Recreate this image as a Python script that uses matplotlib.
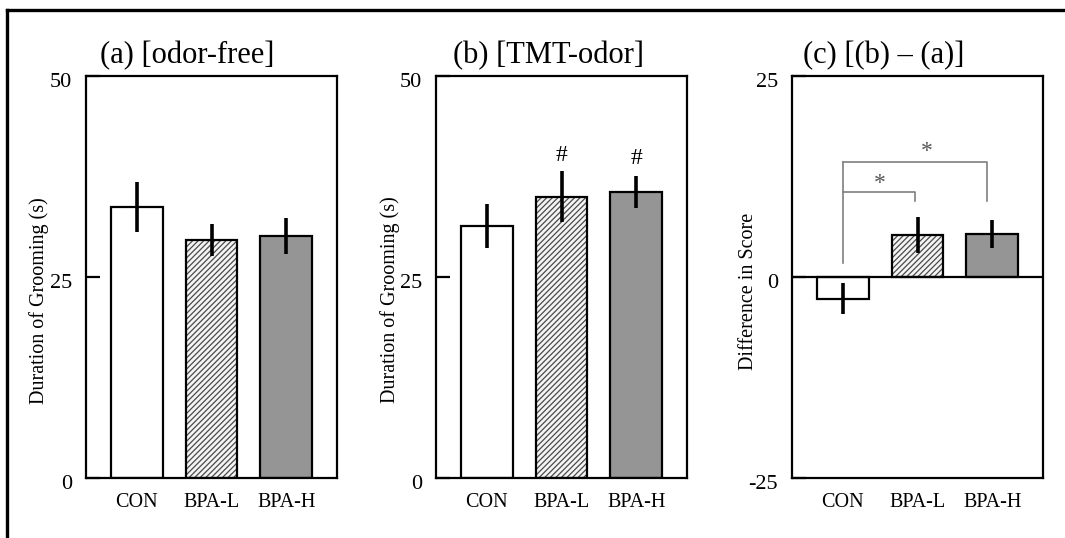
import matplotlib
matplotlib.use("Agg")
import matplotlib.pyplot as plt
from matplotlib.lines import Line2D
from matplotlib.transforms import ScaledTranslation

plt.rcParams["font.family"] = ["Liberation Serif", "DejaVu Serif"]
plt.rcParams["axes.unicode_minus"] = False
plt.rcParams["hatch.linewidth"] = 0.9

categories = ["CON", "BPA-L", "BPA-H"]

odor_free_mean = [33.7, 29.6, 30.1]
odor_free_sem = [3.1, 2.0, 2.2]

tmt_mean = [31.3, 35.0, 35.6]
tmt_sem = [2.75, 3.2, 2.0]

diff_mean = [-2.7, 5.2, 5.3]
diff_sem = [1.9, 2.25, 1.75]

# significance marks
hash_y = [40.1, 39.7]            # "#" above BPA-L and BPA-H in (b)
bracket_low = 10.6               # CON vs BPA-L
bracket_high = 14.3              # CON vs BPA-H
bracket_drop = 9.4
bracket_base = 1.7
star_y = [12.1, 16.1]

W, H = 1065, 538
GRAY = "#959595"


def make_axes(fig, left_px):
    return fig.add_axes([left_px / W, (H - 478) / H, 251 / W, 402 / H])


def draw_bars(ax, means, sems):
    x = list(range(len(categories)))
    w = 0.69
    ax.bar(x[0], means[0], w, color="white", edgecolor="black", linewidth=1.6, zorder=2)
    # hatched bar: hatch in dark gray, outline in black
    ax.bar(x[1], means[1], w, color="#f4f4f4", edgecolor="#4a4a4a", hatch="//////",
           linewidth=0, zorder=2)
    ax.bar(x[1], means[1], w, fill=False, edgecolor="black", linewidth=1.6, zorder=3)
    ax.bar(x[2], means[2], w, color=GRAY, edgecolor="black", linewidth=1.6, zorder=2)
    ax.errorbar(x, means, yerr=sems, fmt="none", ecolor="black", elinewidth=2.6,
                capsize=0, zorder=4)
    ax.set_xlim(-0.68, 2.68)
    ax.set_xticks(x)
    ax.set_xticklabels(categories, fontsize=14.5)
    ax.tick_params(axis="x", length=0, pad=11)
    ax.tick_params(axis="y", direction="in", length=10, width=1.6, pad=10,
                   labelsize=16, right=False)
    for s in ax.spines.values():
        s.set_linewidth(1.6)
    off = ScaledTranslation(0, -4 / 100, ax.figure.dpi_scale_trans)
    for lab in ax.get_yticklabels():
        lab.set_transform(lab.get_transform() + off)


def main():
    fig = plt.figure(figsize=(W / 100, H / 100), dpi=100)

    # (a)
    ax1 = make_axes(fig, 86)
    ax1.set_ylim(0, 50)
    ax1.set_yticks([0, 25, 50])
    draw_bars(ax1, odor_free_mean, odor_free_sem)
    ax1.text(0.402, 1.032, "(a) [odor-free]", transform=ax1.transAxes,
             ha="center", va="baseline", fontsize=22)
    ax1.text(-0.188, 0.44, "Duration of Grooming (s)", transform=ax1.transAxes,
             rotation=90, ha="center", va="center", fontsize=14.5)

    # (b)
    ax2 = make_axes(fig, 436)
    ax2.set_ylim(0, 50)
    ax2.set_yticks([0, 25, 50])
    draw_bars(ax2, tmt_mean, tmt_sem)
    ax2.text(0.45, 1.032, "(b) [TMT-odor]", transform=ax2.transAxes,
             ha="center", va="baseline", fontsize=22)
    ax2.text(-0.183, 0.443, "Duration of Grooming (s)", transform=ax2.transAxes,
             rotation=90, ha="center", va="center", fontsize=14.5)
    for xi, yi in zip([1, 2], hash_y):
        ax2.text(xi, yi, "#", ha="center", va="center", fontsize=17)

    # (c)
    ax3 = make_axes(fig, 792)
    ax3.set_ylim(-25, 25)
    ax3.set_yticks([-25, 0, 25])
    draw_bars(ax3, diff_mean, diff_sem)
    ax3.axhline(0, color="black", linewidth=1.6, zorder=5)
    ax3.text(0.367, 1.032, "(c) [(b) \u2013 (a)]", transform=ax3.transAxes,
             ha="center", va="baseline", fontsize=22)
    ax3.text(-0.175, 0.463, "Difference in Score", transform=ax3.transAxes,
             rotation=90, ha="center", va="center", fontsize=14.5)

    bc = "#7f7f7f"
    ax3.plot([0, 0], [bracket_base, bracket_high], color=bc, lw=1.2)
    ax3.plot([0, 0.97, 0.97], [bracket_low, bracket_low, bracket_drop], color=bc, lw=1.2)
    ax3.plot([0, 1.93, 1.93], [bracket_high, bracket_high, bracket_drop], color=bc, lw=1.2)
    ax3.text(0.5, star_y[0] - 0.5, "*", ha="center", va="center", fontsize=17,
             color="#555555")
    ax3.text(1.12, star_y[1] - 0.5, "*", ha="center", va="center", fontsize=17,
             color="#555555")

    # frame lines at top and left of the figure
    fig.add_artist(Line2D([7 / W, 1], [1 - 10 / H, 1 - 10 / H], color="black", lw=2.4))
    fig.add_artist(Line2D([7 / W, 7 / W], [0, 1 - 10 / H], color="black", lw=2.4))

    fig.savefig("out.png", dpi=100)


if __name__ == "__main__":
    main()
